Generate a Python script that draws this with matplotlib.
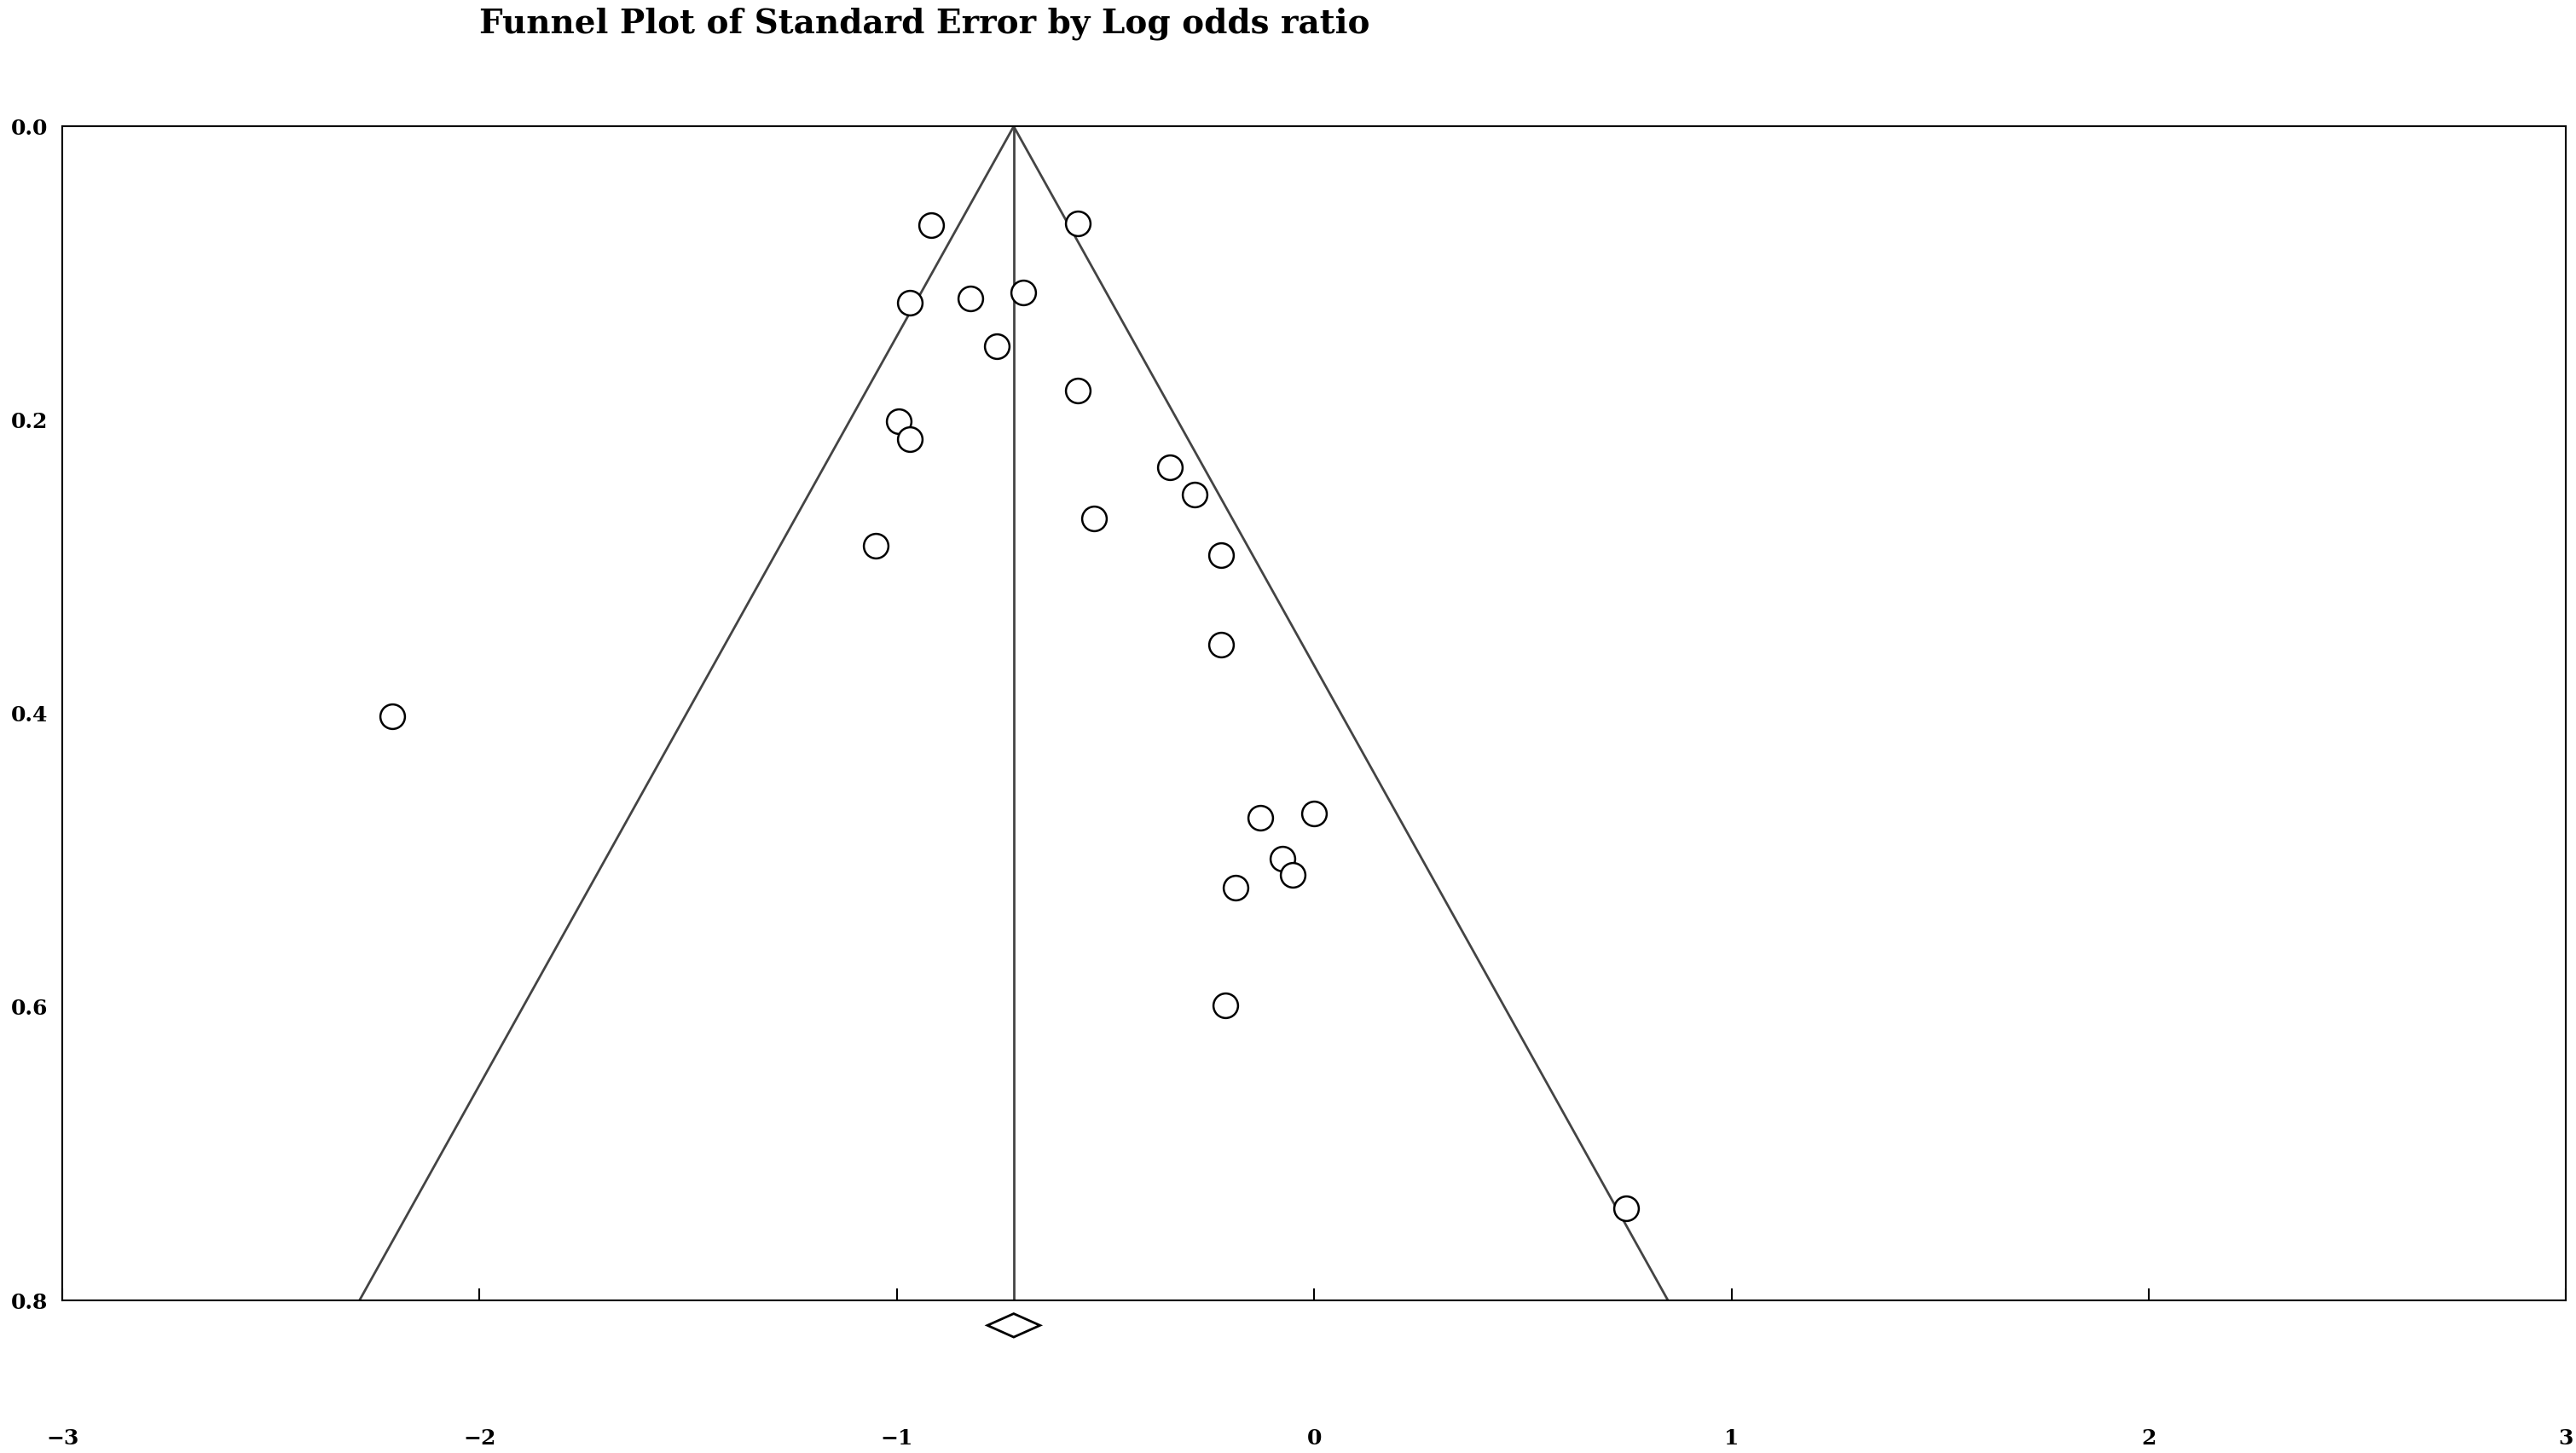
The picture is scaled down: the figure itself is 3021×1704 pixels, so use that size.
import matplotlib.pyplot as plt
from matplotlib.patches import Polygon
import numpy as np

log_odds = [-0.917, -0.567, -0.969, -0.823, -0.697, -0.760, -0.567, -0.996, -0.969,
            -0.346, -0.287, -0.528, -1.051, -0.224, -0.224, -2.209, -0.130, 0.0,
            -0.075, -0.051, -0.189, -0.213, 0.748]
std_err = [0.067, 0.066, 0.120, 0.117, 0.113, 0.150, 0.180, 0.201, 0.213,
           0.232, 0.251, 0.267, 0.286, 0.292, 0.353, 0.402, 0.471, 0.468,
           0.499, 0.510, 0.519, 0.599, 0.737]
pooled = -0.720
ci_low, ci_high = -0.783, -0.657
se_max = 0.8

fig = plt.figure(figsize=(30.21, 17.04), dpi=100)
ax = fig.add_axes([0.0242, 0.105, 0.9719, 0.808])
ax.set_xlim(-3, 3)
ax.set_ylim(se_max, 0)

# funnel (95% limits) and pooled estimate line
ax.plot([pooled - 1.96 * se_max, pooled, pooled + 1.96 * se_max], [se_max, 0, se_max],
        color='#444444', lw=2)
ax.plot([pooled, pooled], [0, se_max], color='#444444', lw=2)

ax.scatter(log_odds, std_err, s=430, facecolors='white', edgecolors='black',
           linewidths=1.8, zorder=3)

# summary diamond below axis
dy = 0.008
yc = se_max + 0.017
diamond = Polygon([[ci_low, yc], [pooled, yc - dy], [ci_high, yc], [pooled, yc + dy]],
                  closed=True, facecolor='white', edgecolor='black', lw=2, clip_on=False)
ax.add_patch(diamond)

ax.set_xticks([-3, -2, -1, 0, 1, 2, 3])
ax.set_yticks([0.0, 0.2, 0.4, 0.6, 0.8])
ax.set_yticklabels(['0.0', '0.2', '0.4', '0.6', '0.8'])
ax.tick_params(axis='x', direction='in', length=10, width=1.5, pad=108, labelsize=18)
ax.tick_params(axis='y', length=0, pad=12, labelsize=18)
for lab in ax.get_xticklabels() + ax.get_yticklabels():
    lab.set_fontweight('bold')
    lab.set_family('DejaVu Serif')
for sp in ax.spines.values():
    sp.set_linewidth(1.5)

fig.text(0.359, 0.984, 'Funnel Plot of Standard Error by Log odds ratio', ha='center', va='center',
         fontsize=28, fontweight='bold', family='DejaVu Serif')

fig.savefig('out.png')
